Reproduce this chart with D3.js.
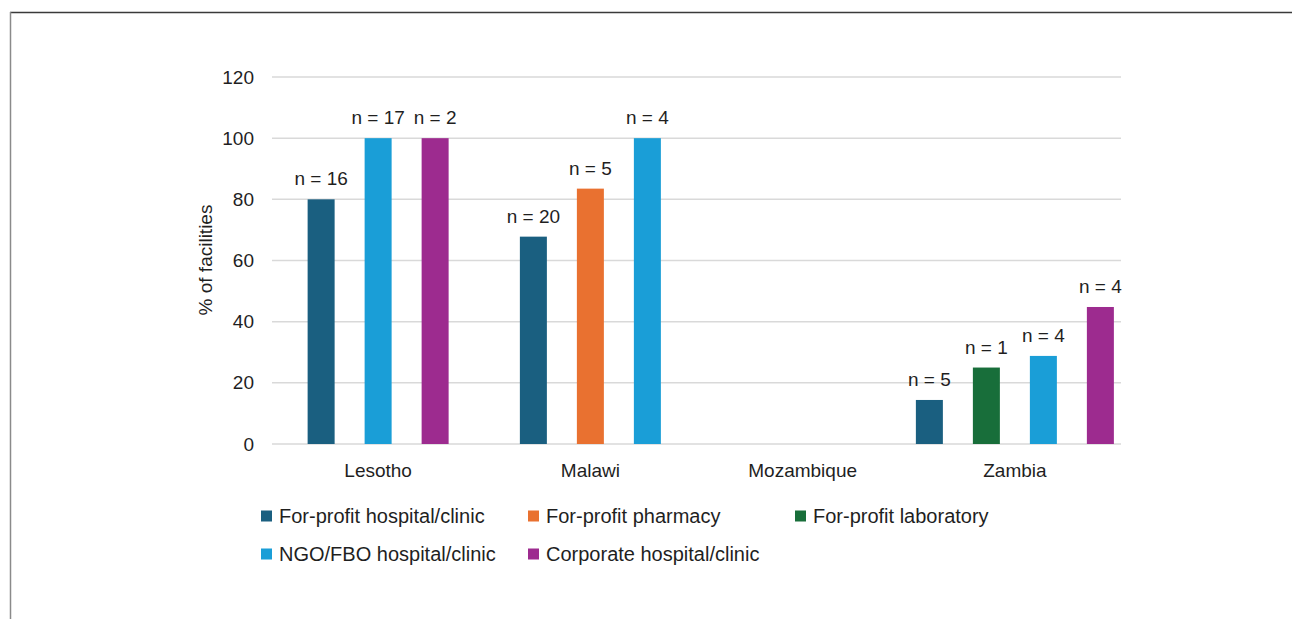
<!DOCTYPE html>
<html>
<head>
<meta charset="utf-8">
<script src="https://cdn.jsdelivr.net/npm/d3@7"></script>
<style>
  html, body { margin: 0; padding: 0; background: #fff; }
  svg { display: block; font-family: "Liberation Sans", Arial, Helvetica, sans-serif; }
</style>
</head>
<body>
<svg id="chart" width="1292" height="619"></svg>
<script>
// ---- data ----
const countries = ["Lesotho", "Malawi", "Mozambique", "Zambia"];
const seriesNames = ["For-profit hospital/clinic", "For-profit pharmacy", "For-profit laboratory", "NGO/FBO hospital/clinic", "Corporate hospital/clinic"];
const seriesColors = ["#1a5f80", "#e97130", "#186e3a", "#1a9ed7", "#9d2b8f"];
// values per series, per country (null = no bar)
const forProfitHospital = [80, 67.8, null, 14.4];
const forProfitPharmacy = [null, 83.5, null, null];
const forProfitLab = [null, null, null, 25];
const ngoFbo = [100, 100, null, 28.8];
const corporate = [100, null, null, 44.8];
const nForProfitHospital = [16, 20, null, 5];
const nForProfitPharmacy = [null, 5, null, null];
const nForProfitLab = [null, null, null, 1];
const nNgoFbo = [17, 4, null, 4];
const nCorporate = [2, null, null, 4];
const yTicks = [0, 20, 40, 60, 80, 100, 120];
const yTitle = "% of facilities";

const seriesValues = [forProfitHospital, forProfitPharmacy, forProfitLab, ngoFbo, corporate];
const seriesN = [nForProfitHospital, nForProfitPharmacy, nForProfitLab, nNgoFbo, nCorporate];

// ---- layout ----
const svg = d3.select("#chart");
const plot = { left: 272, right: 1121, top: 77, bottom: 444 };
const textColor = "#1f1f1f";

// frame
svg.append("line").attr("x1", 10).attr("x2", 1292).attr("y1", 12.5).attr("y2", 12.5)
  .attr("stroke", "#3a3a3a").attr("stroke-width", 1.5);
svg.append("line").attr("x1", 10.5).attr("x2", 10.5).attr("y1", 12).attr("y2", 619)
  .attr("stroke", "#8a8a8a").attr("stroke-width", 1.5);

const x = d3.scaleBand().domain(countries).range([plot.left, plot.right]);
const y = d3.scaleLinear().domain([0, 120]).range([plot.bottom, plot.top]);

// gridlines
svg.append("g").selectAll("line").data(yTicks).join("line")
  .attr("x1", plot.left).attr("x2", plot.right)
  .attr("y1", d => y(d)).attr("y2", d => y(d))
  .attr("stroke", "#d9d9d9").attr("stroke-width", 1.5);

// y axis labels
const yAxis = d3.axisLeft(y).tickValues(yTicks).tickSize(0).tickPadding(18);
const gy = svg.append("g").attr("transform", `translate(${plot.left},0)`).call(yAxis);
gy.select(".domain").remove();
gy.selectAll("text").attr("font-size", 19).attr("fill", textColor)
  .attr("font-family", "Liberation Sans, Arial, sans-serif");

// y title
svg.append("text")
  .attr("transform", `translate(212,260) rotate(-90)`)
  .attr("text-anchor", "middle")
  .attr("font-size", 19).attr("fill", textColor)
  .text(yTitle);

// x axis labels
const xAxis = d3.axisBottom(x).tickSize(0).tickPadding(20);
const gx = svg.append("g").attr("transform", `translate(0,${plot.bottom})`).call(xAxis);
gx.select(".domain").remove();
gx.selectAll("text").attr("font-size", 19).attr("fill", textColor)
  .attr("font-family", "Liberation Sans, Arial, sans-serif");

// bars
const barW = 27, step = 57;
const bars = [];
countries.forEach((c, ci) => {
  const present = seriesValues.map((s, si) => si).filter(si => seriesValues[si][ci] != null);
  const mid = x(c) + x.bandwidth() / 2;
  const inner = d3.scaleBand().domain(present)
    .range([mid - step * present.length / 2, mid + step * present.length / 2]);
  present.forEach(si => {
    bars.push({ c, si, v: seriesValues[si][ci], n: seriesN[si][ci], cx: inner(si) + inner.bandwidth() / 2 });
  });
});

svg.append("g").selectAll("rect").data(bars).join("rect")
  .attr("x", d => d.cx - barW / 2)
  .attr("width", barW)
  .attr("y", d => y(d.v))
  .attr("height", d => y(0) - y(d.v))
  .attr("fill", d => seriesColors[d.si]);

svg.append("g").selectAll("text").data(bars).join("text")
  .attr("x", d => d.cx)
  .attr("y", d => y(d.v) - 14)
  .attr("text-anchor", "middle")
  .attr("font-size", 19).attr("fill", textColor)
  .text(d => `n = ${d.n}`);

// legend
const legendCols = [261, 528, 795];
const legendRows = [516, 554];
const leg = svg.append("g").selectAll("g").data(seriesNames).join("g")
  .attr("transform", (d, i) => `translate(${legendCols[i % 3]},${legendRows[Math.floor(i / 3)]})`);
leg.append("rect").attr("x", 0).attr("y", -5.5).attr("width", 11).attr("height", 11)
  .attr("fill", (d, i) => seriesColors[i]);
leg.append("text").attr("x", 18).attr("y", 0).attr("dy", "0.35em")
  .attr("font-size", 20).attr("fill", textColor).text(d => d);
</script>
</body>
</html>
